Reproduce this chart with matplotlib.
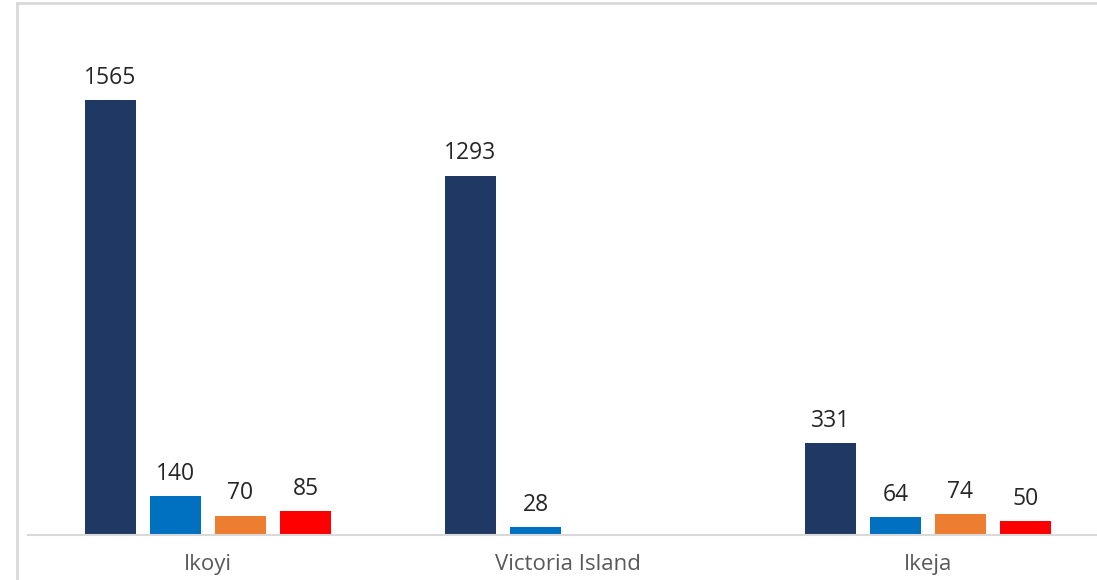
import numpy as np
import matplotlib.pyplot as plt
from matplotlib.lines import Line2D

plt.rcParams['font.family'] = ['Open Sans', 'DejaVu Sans']

# data
locations = ['Ikoyi', 'Victoria Island', 'Ikeja']
series_a = [1565, 1293, 331]
series_b = [140, 28, 64]
series_c = [70, None, 74]
series_d = [85, None, 50]
colors = ['#203864', '#0070C0', '#ED7D31', '#FF0000']

fig = plt.figure(figsize=(10.97, 5.80), dpi=100)
W, H = 1097, 580
# axes: x from -0.5..2.5 -> px 28..1108, baseline at px 535
ax = fig.add_axes([28 / W, 45 / H, 1080 / W, 500 / H])

x = np.arange(len(locations))
step = 65 / 360
width = 51 / 360
all_series = [series_a, series_b, series_c, series_d]
for i, vals in enumerate(all_series):
    offs = (i - 1.5) * step
    for j, v in enumerate(vals):
        if v is None:
            continue
        ax.bar(x[j] + offs, v, width, color=colors[i], zorder=2)
        ax.annotate(str(v), (x[j] + offs, v), xytext=(0, 7.5), textcoords='offset points',
                    ha='center', va='bottom', fontsize=16.5, color='#262626')

ax.set_xlim(-0.5, 2.5)
ax.set_ylim(0, 1800)
for s in ['top', 'right', 'left']:
    ax.spines[s].set_visible(False)
ax.spines['bottom'].set_color('#d9d9d9')
ax.spines['bottom'].set_linewidth(1.5)
ax.set_yticks([])
ax.set_xticks(x)
ax.set_xticklabels(locations, fontsize=16, color='#595959')
ax.tick_params(axis='x', length=0, pad=14)

# chart border
fig.add_artist(Line2D([17 / W, 17 / W], [0, 1 - 3 / H], color='#d9d9d9', lw=2))
fig.add_artist(Line2D([17 / W, 1], [1 - 3 / H, 1 - 3 / H], color='#d9d9d9', lw=2))

fig.savefig('out.png', dpi=100)
